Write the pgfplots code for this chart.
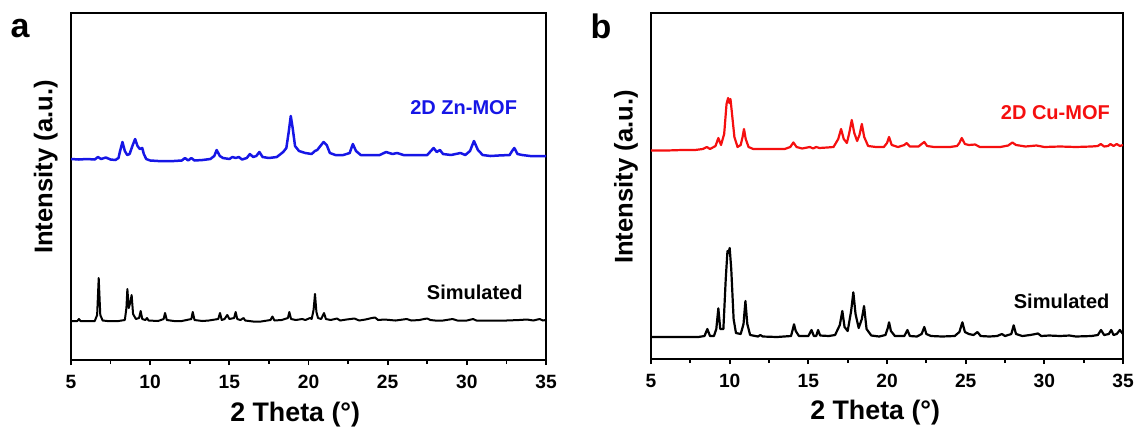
\documentclass[border=0pt]{standalone}
\usepackage{fontspec}
\setmainfont{Liberation Sans}
\usepackage{pgfplots}
\pgfplotsset{compat=1.18}

\definecolor{znblue}{RGB}{22,22,230}
\definecolor{cured}{RGB}{245,15,15}

\tikzset{tag/.style={font=\bfseries\fontsize{10}{12}\selectfont}}

\pgfplotsset{
  xrd/.style={
    scale only axis,
    width=237.5pt, height=173.5pt,
    xmin=5, xmax=35, ymin=0, ymax=347,
    xtick={5,10,...,35}, minor x tick num=1,
    ytick=\empty, xtick pos=lower, tick align=outside,
    major tick length=2.5pt, minor tick length=2pt,
    axis line style={line width=1pt},
    every tick/.style={black, line width=0.9pt},
    /pgf/number format/assume math mode=true,
    ticklabel style={font=\bfseries\fontsize{9.6}{11}\selectfont},
    xticklabel style={yshift=-1.5pt},
    xlabel={2 Theta (°)},
    ylabel={Intensity (a.u.)},
    xlabel style={font=\bfseries\fontsize{13.4}{15}\selectfont,
      at={(axis description cs:0.472,-0.176)}, anchor=base},
    ylabel style={font=\bfseries\fontsize{12.8}{15}\selectfont,
      at={(axis description cs:-0.053,0.556)}, anchor=center},
    every axis plot/.append style={no markers, line join=round},
  },
}

\begin{document}
\begin{tikzpicture}
\useasboundingbox (0,0) rectangle (569pt,-215pt);

% ---- panel a ----
\begin{axis}[xrd, at={(35.5pt,-180pt)}, anchor=south west]
% 2D Zn-MOF (experimental)
\addplot[znblue, line width=1.25pt] coordinates {
(5.0,201) (5.5,200.5) (6.0,201) (6.5,200.5) (6.7,203) (6.9,201) (7.2,202.5)
(7.5,200.5) (7.8,200) (8.0,202) (8.1,209) (8.25,218) (8.4,209) (8.55,205)
(8.7,206) (8.9,215) (9.05,221) (9.2,214) (9.35,211) (9.5,212) (9.6,206)
(9.75,201) (10.0,199.5) (10.5,199) (11.0,199) (11.5,199) (12.0,199.5)
(12.2,202) (12.4,199.5) (12.6,202) (12.8,199.5) (13.3,200) (13.8,201)
(14.05,204) (14.2,210) (14.4,204) (14.6,202) (15.0,201) (15.2,203) (15.4,202)
(15.6,203) (15.8,200.5) (16.1,202) (16.3,206) (16.5,203) (16.7,204) (16.9,208)
(17.1,203) (17.5,202) (18.0,203) (18.4,208) (18.6,212) (18.75,228) (18.88,244)
(19.0,232) (19.15,214) (19.4,209) (19.8,207) (20.2,206) (20.4,209) (20.55,210)
(20.75,214) (20.95,218) (21.15,215) (21.35,207) (21.7,205) (22.2,205)
(22.6,207) (22.8,216) (23.0,209) (23.3,205) (24.0,205) (24.5,205) (24.9,208)
(25.3,206) (25.6,207) (26.0,205) (26.8,205) (27.5,205) (27.9,212) (28.1,208)
(28.3,210) (28.5,206) (29.0,205) (29.6,207) (29.9,205) (30.2,209) (30.45,219)
(30.7,210) (31.0,205) (31.5,204) (32.0,204.5) (32.7,205) (32.9,210) (33.0,212)
(33.2,206) (33.5,205) (34.0,204) (34.5,204) (35.0,204)
};
% simulated
\addplot[black, line width=1pt] coordinates {
(5.0,39) (5.4,39) (5.5,41) (5.6,39) (6.5,39) (6.65,45) (6.75,82) (6.85,45)
(7.0,39.5) (7.3,39) (8.0,39) (8.4,40) (8.5,52) (8.56,71) (8.65,52) (8.75,58)
(8.83,65) (8.92,46) (9.1,41) (9.3,42) (9.4,49) (9.5,41) (9.7,40) (9.8,42)
(9.9,39.5) (10.5,39) (10.85,41) (10.94,47) (11.05,40) (11.5,39) (12.0,39)
(12.6,41) (12.69,48) (12.8,40) (13.3,39) (13.7,39.5) (14.3,41) (14.41,47)
(14.52,40) (14.7,41) (14.87,45) (15.0,41) (15.3,42) (15.4,48) (15.5,41)
(15.7,40) (15.9,42) (16.0,39.5) (16.5,38.5) (17.0,38.5) (17.6,40) (17.72,43.5)
(17.85,39.5) (18.3,40) (18.7,42) (18.79,48) (18.9,41) (19.2,40) (19.6,41)
(19.8,40) (20.1,42) (20.2,41) (20.32,50) (20.41,66) (20.5,48) (20.6,42)
(20.8,41) (20.98,47) (21.1,41) (21.4,40) (21.8,41.5) (22.0,39.5) (22.4,40.5)
(22.9,41.5) (23.2,39.5) (23.6,40.5) (24.0,42) (24.2,42.5) (24.4,40) (24.8,40.5)
(25.5,39.5) (26.2,41) (26.5,39.5) (27.0,40) (27.3,41) (27.5,41.5) (27.7,40)
(28.0,39.5) (28.5,39.5) (29.1,41) (29.4,39.5) (30.0,39.5) (30.4,41) (30.6,39.5)
(31.5,39.5) (32.5,39.5) (33.3,40) (33.8,40.5) (34.2,39.5) (34.6,41) (34.8,39.5)
(35.0,40)
};
\node[tag, text=znblue] at (axis cs:29.8,252) {2D Zn-MOF};
\node[tag] at (axis cs:30.5,68) {Simulated};
\end{axis}

% ---- panel b ----
\begin{axis}[xrd, at={(325.5pt,-179.5pt)}, anchor=south west,
  width=236pt, height=173pt, ymax=346,
  xlabel style={at={(axis description cs:0.475,-0.176)}},
  ylabel style={at={(axis description cs:-0.053,0.526)}}]
% 2D Cu-MOF (experimental)
\addplot[cured, line width=1.1pt] coordinates {
(5.0,208.5) (6.0,208.5) (7.0,209) (7.8,209) (8.3,210) (8.55,212) (8.75,210)
(9.1,213) (9.28,221) (9.45,214) (9.65,225) (9.8,255) (9.9,261) (9.98,256)
(10.05,260) (10.15,245) (10.3,222) (10.5,212) (10.7,214) (10.82,222)
(10.91,230) (11.02,220) (11.2,212) (11.5,210) (12.0,210) (12.5,210) (13.0,210)
(13.5,210) (13.85,212) (14.05,216.5) (14.25,212) (14.6,210.5) (15.1,212)
(15.3,210.5) (15.5,212) (15.7,211) (16.2,211.5) (16.6,212) (16.9,220)
(17.08,230) (17.25,220) (17.45,216) (17.6,226) (17.76,239) (17.92,226)
(18.1,218) (18.25,224) (18.4,235) (18.55,222) (18.8,213) (19.3,212) (19.8,212)
(20.0,216) (20.13,222) (20.3,214) (20.7,212) (21.1,214) (21.25,216)
(21.45,212.5) (22.0,212.5) (22.2,215) (22.37,217) (22.55,213) (23.0,212)
(24.0,212) (24.45,213) (24.6,216) (24.75,221) (24.95,215) (25.2,214)
(25.6,214.5) (25.9,212) (26.5,212) (27.2,212) (27.7,213.5) (27.97,216.5)
(28.2,214) (28.8,212.5) (29.5,213.5) (30.0,212) (31.0,212.5) (32.0,212)
(33.0,212.5) (33.4,213) (33.59,215) (33.8,212.5) (34.05,213) (34.2,215)
(34.4,213) (34.6,215) (34.8,213) (35.0,214)
};
% simulated
\addplot[black, line width=1.1pt] coordinates {
(5.0,22) (8.0,22) (8.4,23) (8.58,30) (8.75,23) (9.0,23) (9.15,30) (9.28,50.7)
(9.4,30) (9.6,30) (9.75,80) (9.86,108) (9.93,106) (10.0,111) (10.1,90)
(10.25,40) (10.4,26) (10.7,25) (10.88,35) (11.0,58) (11.12,35) (11.3,24)
(11.8,22.5) (11.95,24) (12.1,22.5) (13.0,22) (13.9,23) (14.0,29) (14.09,34.7)
(14.2,28) (14.4,23) (15.0,23) (15.2,29) (15.35,23) (15.5,23) (15.62,29)
(15.75,23.5) (16.3,23) (16.7,24) (17.0,34) (17.16,48) (17.3,32) (17.5,28)
(17.72,48) (17.86,66.7) (18.0,45) (18.2,31) (18.4,40) (18.54,53) (18.7,30)
(19.0,23.5) (19.5,22.5) (19.9,24) (20.05,31) (20.13,36.7) (20.25,28)
(20.5,23) (21.1,23) (21.3,29) (21.45,23) (21.9,22.5) (22.2,25) (22.37,32)
(22.5,25) (22.8,23) (23.5,22.5) (24.3,23) (24.6,27) (24.79,36.7) (24.95,27)
(25.2,25) (25.5,24) (25.75,27) (25.95,23) (26.5,22.5) (27.0,23) (27.3,25)
(27.5,23) (27.9,25) (28.05,33.7) (28.2,25) (28.6,23) (29.1,24) (29.6,25.5)
(29.8,23) (30.3,23.5) (31.0,23) (31.6,23.5) (32.0,22.5) (33.0,23) (33.4,24)
(33.6,29) (33.8,24) (34.1,25) (34.25,29) (34.4,24) (34.6,25) (34.8,29)
(35.0,25)
};
\node[tag, text=cured] at (axis cs:30.7,246) {2D Cu-MOF};
\node[tag] at (axis cs:31.1,58) {Simulated};
\end{axis}

\node[font=\bfseries\fontsize{17}{20}\selectfont] at (10pt,-14.5pt) {a};
\node[font=\bfseries\fontsize{17}{20}\selectfont] at (300.5pt,-13pt) {b};
\end{tikzpicture}
\end{document}
